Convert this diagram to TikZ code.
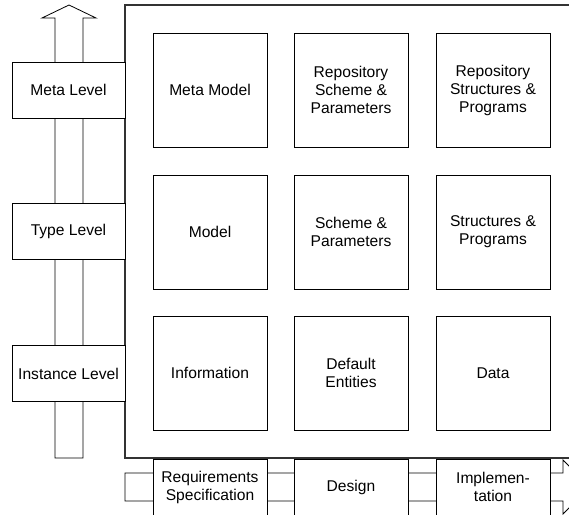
\documentclass[tikz,border=0pt]{standalone}
\usepackage{fontspec}
\setmainfont{Liberation Sans}
\begin{document}
\begin{tikzpicture}[x=1pt,y=-1pt,line width=0.8pt,
  txt/.style={font=\fontsize{15.6}{18}\selectfont,align=center},
  box/.style={draw,fill=white,txt,inner sep=0pt},
  levelbox/.style={box,minimum width=113pt,minimum height=56pt},
  cell/.style={box,minimum width=114pt,minimum height=114pt},
  phase/.style={box,minimum width=114pt,minimum height=80pt,anchor=north},
  blockarrow/.style={draw,fill=white}]
\useasboundingbox (0,0) rectangle (569,514);
\clip (0,0) rectangle (569,514);
% big frame
\draw[line width=1.1pt,black!80] (600,5) -- (125,5) -- (125,458) -- (600,458);
% vertical block arrow
\draw[blockarrow] (55,458) -- (55,18) -- (42,18) -- (69,5) -- (96,18) -- (83,18) -- (83,458) -- cycle;
% horizontal block arrow
\draw[blockarrow] (125,473) -- (563,473) -- (563,460) -- (590,487) -- (563,514) -- (563,501) -- (125,501) -- cycle;
% level boxes
\node[levelbox] (meta) at (68.5,90) {Meta Level};
\node[levelbox] (type) at (68.5,231.5) {Type Level};
\node[levelbox] (inst) at (68.5,373.5) {Instance Level};
% grid
\node[cell] (mm) at (210,90) {Meta Model};
\node[cell] (rsp) at (351,90) {Repository\\Scheme \&\\Parameters};
\node[cell] (rstp) at (493,90) {Repository\\Structures \&\\Programs};
\node[cell] (mod) at (210,232) {Model};
\node[cell] (sp) at (351,232) {Scheme \&\\Parameters};
\node[cell] (stp) at (493,232) {Structures \&\\Programs};
\node[cell] (info) at (210,373) {Information};
\node[cell] (de) at (351,373) {Default\\Entities};
\node[cell] (data) at (493,373) {Data};
% phases
\node[phase] (req) at (210,458.5) {};
\node[txt] (reqt) at (210,487) {Requirements\\Specification};
\node[phase] (des) at (351,458.5) {};
\node[txt] (dest) at (351,487) {Design};
\node[phase] (impl) at (493,458.5) {};
\node[txt] (implt) at (493,487) {Implemen-\\tation};
\end{tikzpicture}
\end{document}
